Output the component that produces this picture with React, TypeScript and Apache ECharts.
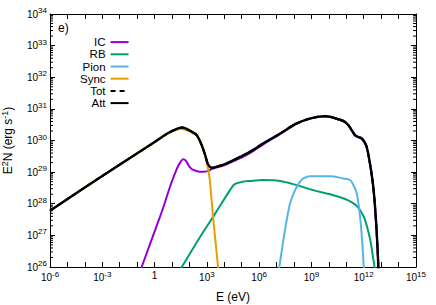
import { useEffect, useRef } from 'react';
import * as echarts from 'echarts';

// Values, as log10(E [eV]) and log10(E^2 N [erg/s])
const icLogE = [-0.9, -0.74, 0.12, 0.5, 0.88, 1.2, 1.36, 1.52, 1.65, 1.78, 1.9, 2.03, 2.22, 2.6, 2.8, 3.08, 3.28, 3.6, 4.14, 4.9, 5.47, 6.24, 7.2, 8.15, 9.0, 9.78, 10.07, 10.5, 10.83, 11.1, 11.31, 11.5, 11.7, 11.88, 12.05, 12.17, 12.36, 12.55, 12.69, 12.78, 12.84, 12.9];
const icLogY = [25.75, 26.0, 27.3, 27.88, 28.53, 29.0, 29.2, 29.35, 29.41, 29.37, 29.26, 29.15, 29.07, 29.01, 29.01, 29.04, 29.1, 29.15, 29.25, 29.44, 29.6, 29.88, 30.2, 30.53, 30.7, 30.76, 30.74, 30.67, 30.61, 30.49, 30.32, 30.16, 30.1, 30.05, 29.93, 29.78, 29.25, 28.5, 27.56, 26.7, 25.96, 25.0];

const rbLogE = [1.3, 1.56, 2.61, 3.47, 4.33, 4.6, 5.0, 5.47, 6.24, 7.2, 8.15, 9.1, 10.07, 10.93, 11.3, 11.6, 11.85, 12.07, 12.36, 12.55, 12.63, 12.7];
const rbLogY = [25.78, 26.0, 26.95, 27.68, 28.43, 28.62, 28.69, 28.72, 28.75, 28.72, 28.59, 28.43, 28.3, 28.15, 28.05, 27.93, 27.75, 27.5, 26.9, 26.25, 25.95, 25.5];

const pionLogE = [7.1, 7.16, 7.48, 7.77, 8.06, 8.34, 8.53, 8.92, 10.07, 10.83, 11.21, 11.4, 11.6, 11.79, 11.92, 12.0, 12.05];
const pionLogY = [25.7, 26.0, 27.16, 28.0, 28.43, 28.69, 28.8, 28.87, 28.87, 28.8, 28.75, 28.6, 28.33, 27.59, 26.74, 26.0, 25.5];

const syncLogE = [-6, -3, 0, 0.7, 1.0, 1.27, 1.45, 1.6, 1.75, 1.9, 2.1, 2.42, 2.7, 2.89, 3.05, 3.17, 3.28, 3.47, 3.66, 3.8];
const syncLogY = [27.78, 28.88, 29.94, 30.2, 30.28, 30.34, 30.36, 30.36, 30.34, 30.31, 30.26, 30.15, 29.85, 29.54, 29.15, 28.75, 28.05, 26.95, 25.9, 25.0];

const attLogE = [-6, -3, 0, 0.7, 1.0, 1.27, 1.45, 1.6, 1.75, 1.9, 2.1, 2.42, 2.7, 2.89, 3.05, 3.17, 3.28, 3.6, 4.14, 4.9, 5.47, 6.24, 7.2, 8.15, 9.0, 9.78, 10.07, 10.5, 10.83, 11.1, 11.31, 11.5, 11.7, 11.88, 12.05, 12.17, 12.36, 12.55, 12.69, 12.78, 12.84, 12.9];
const attLogY = [27.78, 28.88, 29.95, 30.21, 30.3, 30.37, 30.4, 30.41, 30.39, 30.35, 30.29, 30.17, 29.86, 29.56, 29.27, 29.17, 29.14, 29.18, 29.28, 29.48, 29.64, 29.91, 30.22, 30.54, 30.71, 30.77, 30.75, 30.68, 30.62, 30.5, 30.33, 30.17, 30.11, 30.07, 29.95, 29.8, 29.27, 28.53, 27.59, 26.74, 26.0, 25.0];

const totLogE = attLogE;
const totLogY = attLogY;

const seriesNames = ['IC', 'RB', 'Pion', 'Sync', 'Tot', 'Att'];
const seriesColors = ['#9400d3', '#009e73', '#56b4e9', '#e69f00', '#000000', '#000000'];

const xMin = 1e-6;
const xMax = 1e15;
const yMin = 1e26;
const yMax = 1e34;

const FONT = 'Liberation Sans, Arial, Helvetica, sans-serif';

function toPairs(xs: number[], ys: number[]) {
  return xs.map((x, i) => [Math.pow(10, x), Math.pow(10, ys[i])]);
}

function expLabel(v: number) {
  const e = Math.round(Math.log10(v));
  if (e === 0) return '1';
  return '10{sup|' + e + '}';
}

export default function App() {
  const ref = useRef<HTMLDivElement>(null);
  useEffect(() => {
    if (!ref.current) return;
    const chart = echarts.init(ref.current, undefined, { renderer: 'svg' });

    const yMinorTicks: number[] = [];
    for (let d = 26; d < 34; d++) {
      for (let k = 2; k <= 9; k++) yMinorTicks.push(k * Math.pow(10, d));
    }

    const dataSets = [
      toPairs(icLogE, icLogY),
      toPairs(rbLogE, rbLogY),
      toPairs(pionLogE, pionLogY),
      toPairs(syncLogE, syncLogY),
      toPairs(totLogE, totLogY),
      toPairs(attLogE, attLogY),
    ];

    const lineSeries = seriesNames.map((name, i) => ({
      type: 'line',
      name,
      data: dataSets[i],
      showSymbol: false,
      symbol: 'none',
      smooth: 0.35,
      clip: true,
      color: seriesColors[i],
      lineStyle: {
        color: seriesColors[i],
        width: name === 'Att' ? 2.4 : 2,
        type: name === 'Tot' ? [5, 4] : 'solid',
      },
      z: 3 + i,
    }));

    const supRich = { sup: { fontSize: 8, fontFamily: FONT, color: '#000', padding: [0, 0, 7, 0] } };

    const axisCommonX = {
      type: 'log',
      logBase: 10,
      min: xMin,
      max: xMax,
      interval: 1,
      splitLine: { show: false },
      axisLine: { show: true, onZero: false, lineStyle: { color: '#000', width: 1 } },
      axisTick: { show: true, inside: true, length: 5, lineStyle: { color: '#000' } },
    };
    const axisCommonY = {
      type: 'log',
      logBase: 10,
      min: yMin,
      max: yMax,
      interval: 1,
      splitLine: { show: false },
      axisLine: { show: true, onZero: false, lineStyle: { color: '#000', width: 1 } },
      axisTick: { show: true, inside: true, length: 5, lineStyle: { color: '#000' } },
    };

    chart.setOption({
      animation: false,
      backgroundColor: '#fff',
      textStyle: { fontFamily: FONT },
      grid: { left: 50, right: 20, top: 14, bottom: 38, containLabel: false, outerBoundsMode: 'none' },
      legend: {
        data: seriesNames,
        orient: 'vertical',
        align: 'right',
        left: 80,
        top: 36,
        padding: 0,
        itemGap: 0,
        itemWidth: 18,
        itemHeight: 11,
        selectedMode: false,
        itemStyle: { opacity: 0 },
        textStyle: { fontSize: 11.5, lineHeight: 12.2, color: '#000', fontFamily: FONT },
      },
      xAxis: [
        {
          ...axisCommonX,
          position: 'bottom',
          name: 'E (eV)',
          nameLocation: 'middle',
          nameGap: 24,
          nameTextStyle: { fontSize: 12, color: '#000', fontFamily: FONT },
          axisLabel: {
            show: true,
            interval: 0,
            margin: 3,
            color: '#000',
            fontSize: 10,
            fontFamily: FONT,
            formatter: (v: number) => {
              const e = Math.round(Math.log10(v));
              return e % 3 === 0 ? expLabel(v) : '';
            },
            rich: supRich,
          },
        },
        {
          ...axisCommonX,
          position: 'top',
          axisLabel: { show: false },
        },
      ],
      yAxis: [
        {
          ...axisCommonY,
          position: 'left',
          name: 'E{sup|2}N (erg s{sup|-1})',
          nameLocation: 'middle',
          nameRotate: 90,
          nameGap: 34,
          nameTextStyle: {
            fontSize: 12,
            color: '#000',
            fontFamily: FONT,
            rich: { sup: { fontSize: 9, fontFamily: FONT, color: '#000', padding: [0, 0, 7, 0] } },
          },
          axisLabel: {
            show: true,
            margin: 3,
            color: '#000',
            fontSize: 10,
            fontFamily: FONT,
            formatter: expLabel,
            rich: supRich,
          },
        },
        {
          ...axisCommonY,
          position: 'right',
          axisLabel: { show: false },
        },
      ],
      graphic: [
        {
          type: 'text',
          left: 58,
          top: 22,
          style: { text: 'e)', fontSize: 12, fontFamily: FONT, fill: '#000' },
        },
      ],
      series: [
        {
          type: 'custom',
          name: 'minorTicks',
          silent: true,
          clip: false,
          z: 2,
          data: yMinorTicks.map((v) => [1, v]),
          renderItem: (params: any, api: any) => {
            const cs = params.coordSys;
            const y = api.coord([1, api.value(1)])[1];
            return {
              type: 'group',
              children: [
                { type: 'line', shape: { x1: cs.x, y1: y, x2: cs.x + 3, y2: y }, style: { stroke: '#000', lineWidth: 1 } },
                { type: 'line', shape: { x1: cs.x + cs.width - 3, y1: y, x2: cs.x + cs.width, y2: y }, style: { stroke: '#000', lineWidth: 1 } },
              ],
            };
          },
        },
        ...lineSeries,
      ],
    } as any);

    return () => chart.dispose();
  }, []);

  return (
    <div
      ref={ref}
      style={{ position: 'absolute', left: 0, top: 0, width: 436, height: 305 }}
    />
  );
}
